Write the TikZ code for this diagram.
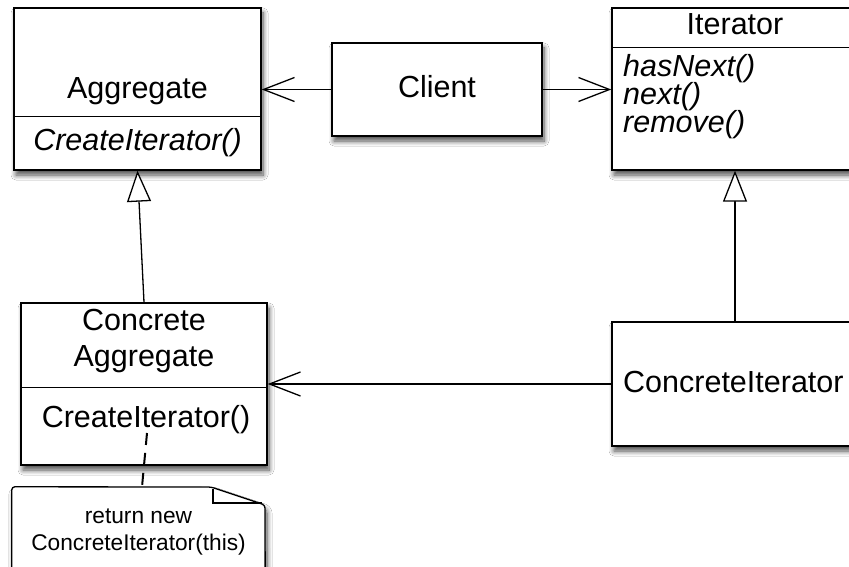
\documentclass[tikz,border=0pt]{standalone}
\usepackage{fontspec}
\setmainfont{Liberation Sans}
\usetikzlibrary{arrows.meta,positioning,calc,shadows.blur}

\begin{document}
\begin{tikzpicture}[x=1pt,y=-1pt,
  shade/.style={blur shadow={shadow xshift=2pt,shadow yshift=-5pt,shadow blur radius=5pt,shadow blur steps=8,shadow opacity=70}},
  cls/.style={draw=black,line width=1.4pt,fill=white,inner sep=0pt,shade},
  txt/.style={font=\fontsize{30.5}{36}\selectfont,inner sep=0pt,anchor=base},
  op/.style={txt,font=\fontsize{30.5}{36}\selectfont\itshape},
  small/.style={txt,font=\fontsize{22.7}{27}\selectfont},
  sep/.style={line width=1.2pt},
  assoc/.style={-{Straight Barb[length=31pt,width=24pt,line width=1.3pt]},line width=1.3pt},
  inherit/.style={-{Triangle[length=31pt,width=24pt,fill=white,line width=1.3pt]},line width=1.3pt}]
\useasboundingbox[fill=white] (0,0) rectangle (849,567);

% classes
\node[cls,minimum width=247pt,minimum height=162pt] (agg) at (137.5,89) {};
\node[cls,minimum width=210pt,minimum height=93pt] (client) at (437,89.5) {};
\node[cls,minimum width=246pt,minimum height=162pt] (iter) at (735,89) {};
\node[cls,minimum width=246pt,minimum height=162pt] (cagg) at (144,384) {};
\node[cls,minimum width=246pt,minimum height=124pt] (citer) at (735,384) {};

% compartments
\draw[sep] ($(agg.north west)+(0,109)$) -- ($(agg.north east)+(0,109)$);
\draw[sep] ($(iter.north west)+(0,40)$) -- ($(iter.north east)+(0,40)$);
\draw[sep] ($(cagg.north west)+(0,85)$) -- ($(cagg.north east)+(0,85)$);

% labels
\node[txt] (aggname) at (137.5,99) {Aggregate};
\node[op] (aggop) at (137.5,151) {CreateIterator()};
\node[txt] (clientname) at (437,98) {Client};
\node[txt] (itername) at (735,35) {Iterator};
\node[op,anchor=base west] (iterop1) at (623,77) {hasNext()};
\node[op,anchor=base west] (iterop2) at (623,105) {next()};
\node[op,anchor=base west] (iterop3) at (623,133) {remove()};
\node[txt] (caggname1) at (144,330) {Concrete};
\node[txt] (caggname2) at (144,366) {Aggregate};
\node[txt] (caggop) at (146,427) {CreateIterator()};
\node[txt,anchor=base west] (citername) at (623,392) {ConcreteIterator};

% note
\node[inner sep=0pt,minimum width=253pt,minimum height=113pt] (note) at (138.5,543.5) {};
\draw[line width=1.3pt,fill=white,rounded corners=3pt,shade]
  (note.north west) -- (211,487) -- (265,505) -- (note.south east) -- (note.south west) -- cycle;
\draw[line width=1.2pt] (213,489) -- (213,503) -- (262,503);
\node[small] (notetxt1) at (138.5,523) {return new};
\node[small] (notetxt2) at (138.5,550) {ConcreteIterator(this)};
\coordinate (opend) at (147,433);
\coordinate (notetop) at (142,487);
\draw[line width=2pt,dash pattern=on 12pt off 8pt] (opend) -- (notetop);

% connectors
\draw[assoc] (client.west) -- (client.west -| agg.east);
\draw[assoc] (client.east) -- (client.east -| iter.west);
\draw[assoc] (citer.west) -- (citer.west -| cagg.east);
\draw[inherit] (cagg.north) -- (agg.south);
\draw[inherit] (citer.north) -- (iter.south);
\end{tikzpicture}
\end{document}
